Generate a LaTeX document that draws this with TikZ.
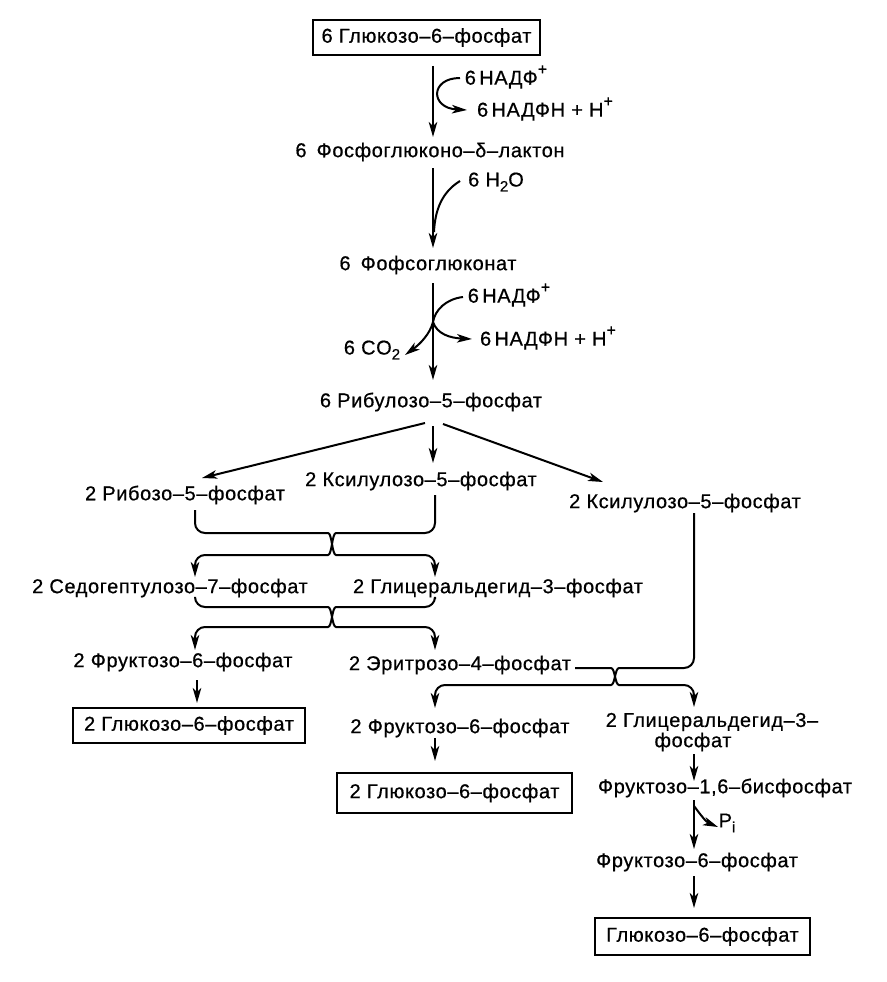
\documentclass[tikz,border=0pt]{standalone}
\usepackage{fontspec}
\setmainfont{Liberation Sans}[LetterSpace=3,FakeBold=0.6]
\usetikzlibrary{arrows.meta}
\newcommand\mysup[1]{\raisebox{0.5em}{\fontsize{16}{16}\selectfont #1}}
\newcommand\mysub[1]{\raisebox{-0.25em}{\fontsize{15}{15}\selectfont #1}}
\begin{document}
\begin{tikzpicture}[x=1pt,y=-1pt,
  lbl/.style={inner sep=0pt, font=\fontsize{20}{23}\selectfont},
  endbox/.style={draw, line width=1.8pt, inner sep=0pt, font=\fontsize{20}{23}\selectfont, minimum height=35pt},
  flow/.style={line width=2pt, -{Stealth[length=15pt,width=8.5pt,inset=4pt]}},
  plain/.style={line width=2pt},
  bendflow/.style={line width=2pt, rounded corners=10pt, -{Stealth[length=15pt,width=8.5pt,inset=4pt]}},
]
\useasboundingbox (0,0) rectangle (886,982);
% ---------- nodes
\node[endbox, minimum width=227pt] (g6p) at (426.5,37.5) {6 Глюкозо–6–фосфат};
\node[lbl] (nadp1) at (506,77) {6\,НАДФ\mysup{+}};
\node[lbl] (nadph1) at (545,109) {6\,НАДФН + Н\mysup{+}};
\node[lbl] (lact) at (430,152) {6\enspace Фосфоглюконо–δ–лактон};
\node[lbl] (h2o) at (496,182) {6 H\mysub{2}O};
\node[lbl] (pglc) at (428,265) {6\enspace Фофсоглюконат};
\node[lbl] (nadp2) at (509,295) {6\,НАДФ\mysup{+}};
\node[lbl] (nadph2) at (548,338) {6\,НАДФН + Н\mysup{+}};
\node[lbl] (co2) at (372,350) {6 CO\mysub{2}};
\node[lbl] (ru5p) at (431,402) {6 Рибулозо–5–фосфат};
\node[lbl] (r5p) at (185,495) {2 Рибозо–5–фосфат};
\node[lbl] (xu5pA) at (421,481) {2 Ксилулозо–5–фосфат};
\node[lbl] (xu5pB) at (685,503) {2 Ксилулозо–5–фосфат};
\node[lbl] (s7p) at (170,588) {2 Седогептулозо–7–фосфат};
\node[lbl] (gapA) at (498,588) {2 Глицеральдегид–3–фосфат};
\node[lbl] (f6pA) at (183,662) {2 Фруктозо–6–фосфат};
\node[lbl] (e4p) at (460,665) {2 Эритрозо–4–фосфат};
\node[endbox, minimum width=232pt] (g6pA) at (189,725.5) {2 Глюкозо–6–фосфат};
\node[lbl] (f6pB) at (460,728) {2 Фруктозо–6–фосфат};
\node[endbox, minimum width=235pt, minimum height=40pt] (g6pB) at (454.5,793) {2 Глюкозо–6–фосфат};
\node[lbl] (gapB1) at (712,722) {2 Глицеральдегид–3–};
\node[lbl] (gapB2) at (693,742) {фосфат};
\node[lbl] (fbp) at (725,788) {Фруктозо–1,6–бисфосфат};
\node[lbl] (pi) at (727,823) {P\mysub{i}};
\node[lbl] (f6pC) at (697,862) {Фруктозо–6–фосфат};
\node[endbox, minimum width=215pt, minimum height=37pt] (g6pC) at (702.5,936.5) {Глюкозо–6–фосфат};
% ---------- coordinates
\coordinate (a1s) at (433,66);  \coordinate (a1e) at (433,137);
\coordinate (n1s) at (460,78);  \coordinate (n1e) at (467,110);
\coordinate (a2s) at (433,168); \coordinate (a2e) at (433,248);
\coordinate (h2s) at (460,181); \coordinate (h2e) at (434,232);
\coordinate (a3s) at (433,283); \coordinate (a3e) at (433,380);
\coordinate (n2s) at (463,297); \coordinate (jn) at (433,322);
\coordinate (n2e) at (472,339); \coordinate (co2e) at (405,355);
\coordinate (rl) at (425,423);  \coordinate (rle) at (202,478);
\coordinate (rm) at (433,426);  \coordinate (rme) at (433,463);
\coordinate (rr) at (443,424);  \coordinate (rre) at (603,482);
\coordinate (c1a) at (195,510); \coordinate (c1ae) at (435,577);
\coordinate (c1b) at (435,495); \coordinate (c1be) at (195,577);
\coordinate (c2a) at (195,598); \coordinate (c2ae) at (435,650);
\coordinate (c2b) at (435,599); \coordinate (c2be) at (195,650);
\coordinate (c3a) at (575,668); \coordinate (c3ae) at (694,707);
\coordinate (c3b) at (694,513); \coordinate (c3be) at (435,708);
\coordinate (l1s) at (197,680); \coordinate (l1e) at (197,703);
\coordinate (m1s) at (435,738); \coordinate (m1e) at (435,761);
\coordinate (r1s) at (694,754); \coordinate (r1e) at (694,781);
\coordinate (r2s) at (694,800); \coordinate (r2e) at (694,849);
\coordinate (pis) at (694,806); \coordinate (pie) at (718,827);
\coordinate (r3s) at (694,876); \coordinate (r3e) at (694,908);
% ---------- connectors
\draw[flow] (a1s) -- (a1e);
\draw[flow] (n1s) .. controls (430,78) and (430,108) .. (n1e);
\draw[flow] (a2s) -- (a2e);
\draw[plain] (h2s) .. controls (442,192) and (435,210) .. (h2e);
\draw[flow] (a3s) -- (a3e);
\draw[plain] (n2s) .. controls (446,299) and (435,310) .. (jn);
\draw[flow] (jn) .. controls (437,334) and (450,338) .. (n2e);
\draw[flow] (jn) .. controls (430,334) and (420,344) .. (co2e);
\draw[flow] (rl) -- (rle);
\draw[flow] (rm) -- (rme);
\draw[flow] (rr) -- (rre);
% crossing 1
\draw[bendflow] (c1a) -- (195,533) -- (318,533) .. controls (332,533) and (332,555) .. (346,555) -- (435,555) -- (c1ae);
\draw[bendflow] (c1b) -- (435,533) -- (346,533) .. controls (332,533) and (332,555) .. (318,555) -- (195,555) -- (c1be);
% crossing 2
\draw[bendflow] (c2a) -- (195,607) -- (318,607) .. controls (332,607) and (332,627) .. (346,627) -- (435,627) -- (c2ae);
\draw[bendflow] (c2b) -- (435,607) -- (346,607) .. controls (332,607) and (332,627) .. (318,627) -- (195,627) -- (c2be);
% crossing 3
\draw[bendflow] (c3a) -- (601,668) .. controls (615,668) and (615,685) .. (629,685) -- (694,685) -- (c3ae);
\draw[bendflow] (c3b) -- (694,668) -- (629,668) .. controls (615,668) and (615,685) .. (601,685) -- (435,685) -- (c3be);
% lower arrows
\draw[flow] (l1s) -- (l1e);
\draw[flow] (m1s) -- (m1e);
\draw[flow] (r1s) -- (r1e);
\draw[flow] (r2s) -- (r2e);
\draw[flow] (pis) .. controls (700,814) and (706,822) .. (pie);
\draw[flow] (r3s) -- (r3e);
\end{tikzpicture}
\end{document}
